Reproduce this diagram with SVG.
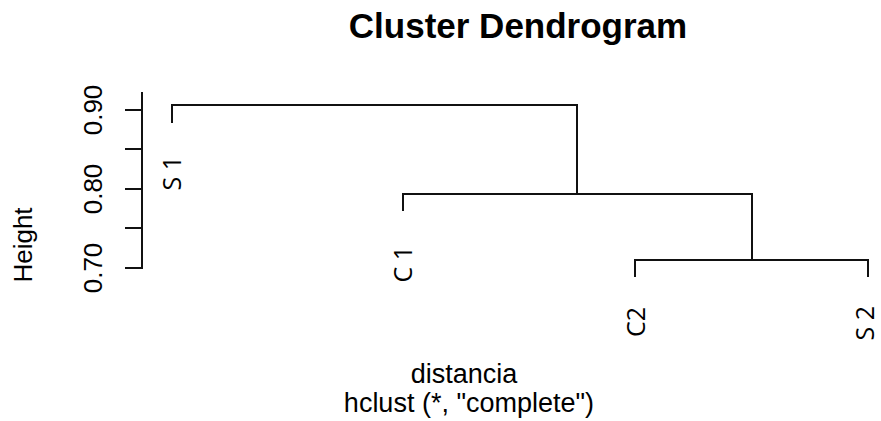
<svg xmlns="http://www.w3.org/2000/svg" width="881" height="421" viewBox="0 0 881 421">
  <style>
    .ln { fill: none; stroke: #111; stroke-width: 2; stroke-linecap: square; }
    .ax { font-family: "Liberation Sans", Arial, sans-serif; fill: #000; }
    .lab { font-family: "Open Sans", "Noto Sans", sans-serif; font-size: 25px; fill: #000; text-anchor: end; }
    .tick { font-family: "Liberation Sans", Arial, sans-serif; font-size: 26px; fill: #000; text-anchor: middle; }
  </style>
  <rect width="881" height="421" fill="#fff"/>

  <!-- title and axis titles -->
  <text class="ax" x="518" y="38" font-size="35" font-weight="bold" text-anchor="middle">Cluster Dendrogram</text>
  <text class="ax" x="464" y="383" font-size="27" text-anchor="middle">distancia</text>
  <text class="ax" x="469" y="412" font-size="27" text-anchor="middle">hclust (*, "complete")</text>
  <text class="ax" font-size="26" text-anchor="middle" transform="translate(32,245) rotate(-90)">Height</text>

  <!-- height axis -->
  <g id="axis">
    <path class="ln" d="M142,93 V268 M126,110 H142 M126,149 H142 M126,189 H142 M126,228 H142 M126,268 H142"/>
    <text class="tick" transform="translate(102,110) rotate(-90)">0.90</text>
    <text class="tick" transform="translate(102,189) rotate(-90)">0.80</text>
    <text class="tick" transform="translate(102,268) rotate(-90)">0.70</text>
  </g>

  <!-- merges -->
  <g id="connectors">
    <path class="ln" d="M172,122 V105 H577 V194"/>
    <path class="ln" d="M403,210 V194 H752 V260"/>
    <path class="ln" d="M635,276 V260 H868 V276"/>
  </g>

  <!-- leaves -->
  <g id="S1"><text class="lab" transform="translate(181,156) rotate(-90)">S 1</text></g>
  <g id="C1"><text class="lab" transform="translate(412,246) rotate(-90)">C 1</text></g>
  <g id="C2"><text class="lab" transform="translate(645,307) rotate(-90)">C2</text></g>
  <g id="S2"><text class="lab" transform="translate(874,306) rotate(-90)">S 2</text></g>
</svg>
